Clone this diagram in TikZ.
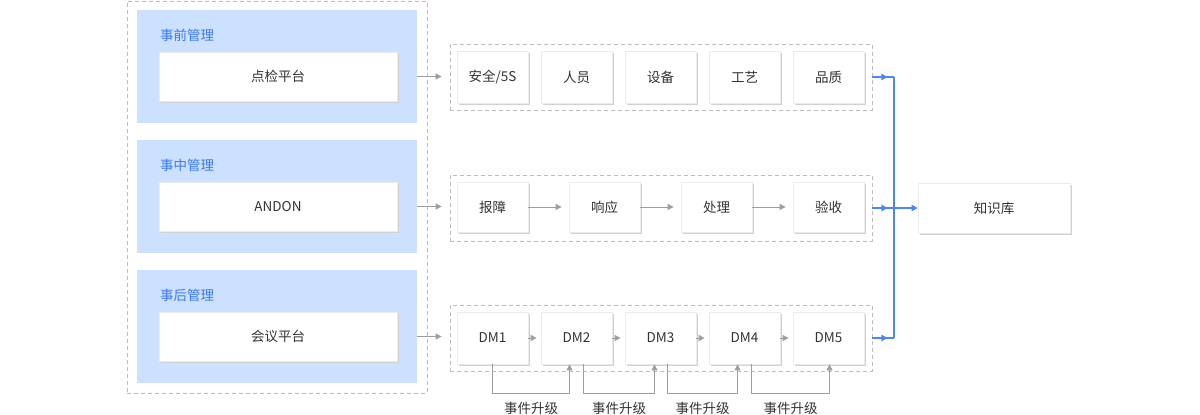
\documentclass[tikz,border=0pt]{standalone}
\usepackage{fontspec}
\setmainfont{Noto Sans CJK SC}
\usetikzlibrary{arrows.meta,shadows}
\definecolor{panelblue}{HTML}{CCE1FF}
\definecolor{titleblue}{HTML}{3C78F5}
\definecolor{dashgray}{HTML}{BDBDBD}
\definecolor{arrowgray}{HTML}{9E9E9E}
\definecolor{textgray}{HTML}{333333}
\definecolor{busblue}{HTML}{4D85FF}
\begin{document}
\begin{tikzpicture}[x=1pt, y=-1pt, font=\fontsize{13.5pt}{16pt}\selectfont, line join=round,
  card/.style={draw=black!8, line width=0.8pt, fill=white, inner sep=0pt, text=textgray,
    drop shadow={shadow xshift=1.5pt, shadow yshift=-1.5pt, fill=black!18, opacity=1}},
  frame/.style={draw=dashgray, line width=0.8pt, dash pattern=on 4pt off 3pt, inner sep=0pt},
  panel/.style={fill=panelblue, inner sep=0pt, minimum width=280pt, minimum height=113pt},
  grayarrow/.style={draw=arrowgray, line width=1pt, -{Triangle[length=6pt, width=6pt]}},
  bus/.style={draw=busblue, line width=1.3pt},
  busarrow/.style={bus, -{Triangle[length=6pt, width=6.5pt]}}]
\useasboundingbox (0,0) rectangle (1200,415);
\def \busx{894};
% left column
\node[frame, minimum width=300pt, minimum height=392pt] (outer) at (277,197) {};
\foreach \t/\p [count=\i] in {事前管理/点检平台, 事中管理/ANDON, 事后管理/会议平台}{
  \node[panel] (pnl\i) at (277,{66.5+130*(\i-1)}) {};
  \node[anchor=west, inner sep=0pt, text=titleblue] (ttl\i) at (160,{35+130*(\i-1)}) {\t};
  \node[card, minimum width=238pt, minimum height=49pt] (plat\i) at (278,{76.5+130*(\i-1)}) {\p};
}
% groups
\node[frame, minimum width=422pt, minimum height=66pt] (grp1) at (661,77) {};
\node[frame, minimum width=422pt, minimum height=66pt] (grp2) at (661,208) {};
\node[frame, minimum width=422pt, minimum height=66pt] (grp3) at (661,338) {};
\foreach \i in {1,2,3}\draw[grayarrow, shorten >=8pt] (pnl\i.east |- plat\i.east) -- (grp\i.west |- plat\i.east);
% row 1
\foreach \t [count=\i] in {安全/5S, 人员, 设备, 工艺, 品质}
  \node[card, minimum width=71pt, minimum height=52pt] (itm\i) at ({492.5+84*(\i-1)},77) {\t};
% row 2
\foreach \t [count=\i] in {报障, 响应, 处理, 验收}
  \node[card, minimum width=71pt, minimum height=50pt] (stp\i) at ({492.5+112*(\i-1)},207) {\t};
\foreach \i/\j in {1/2, 2/3, 3/4}\draw[grayarrow, shorten >=7pt] (stp\i.east) -- (stp\j.west);
% row 3
\foreach \i in {1,...,5}
  \node[card, minimum width=71pt, minimum height=52pt] (dm\i) at ({492.5+84*(\i-1)},338) {DM\i};
\foreach \i/\j in {1/2, 2/3, 3/4, 4/5}\draw[grayarrow, shorten >=4pt] (dm\i.east) -- (dm\j.west);
\foreach \i/\j/\da/\db in {1/2/0/-7, 2/3/7/-6, 3/4/7/-7, 4/5/7/1}
  \draw[grayarrow] ([xshift=\da pt]dm\i.south) -- ++(0,29) -| ([xshift=\db pt]dm\j.south)
    node[pos=0.25, below=5pt, text=textgray] (esc\i) {事件升级};
% knowledge base
\node[card, minimum width=152pt, minimum height=50pt] (know) at (994,208) {知识库};
\foreach \i in {1,2,3}\coordinate (bus\i) at (\busx, 0 |- grp\i.east);
\foreach \i in {1,2,3}{
  \draw[bus] (grp\i.east) -- (bus\i);
  \draw[busarrow] (grp\i.east) -- ++(15,0);
}
\draw[bus] (bus1) -- (bus3);
\draw[busarrow] (bus2) -- (know.west);
\end{tikzpicture}
\end{document}
